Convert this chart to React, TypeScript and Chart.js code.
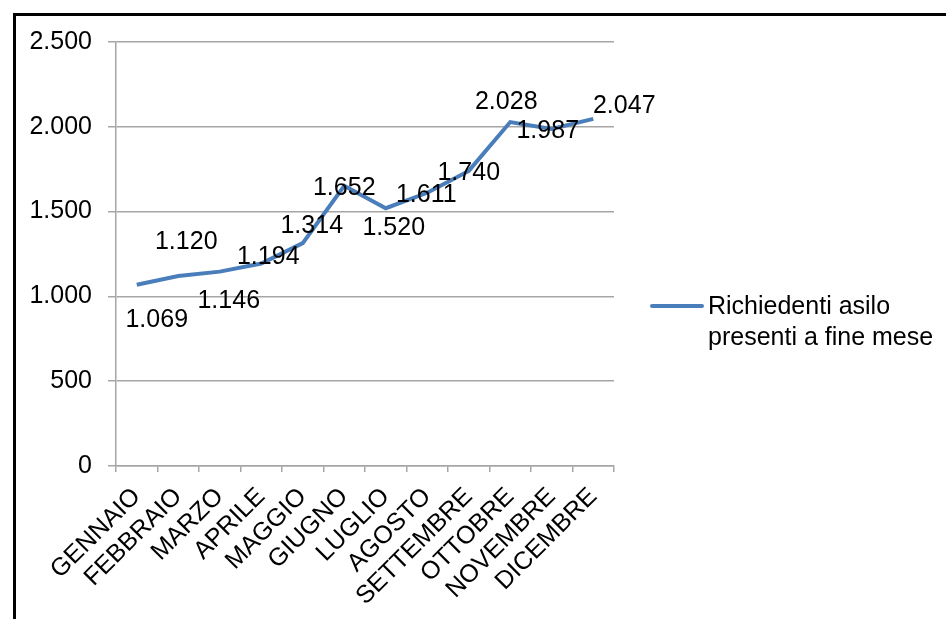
import React, { useEffect, useRef } from "react";
import { Chart, registerables } from "chart.js";

Chart.register(...registerables);

const months = [
  "GENNAIO", "FEBBRAIO", "MARZO", "APRILE", "MAGGIO", "GIUGNO",
  "LUGLIO", "AGOSTO", "SETTEMBRE", "OTTOBRE", "NOVEMBRE", "DICEMBRE",
];
const presenti = [1069, 1120, 1146, 1194, 1314, 1652, 1520, 1611, 1740, 2028, 1987, 2047];
const seriesName = ["Richiedenti asilo", "presenti a fine mese"];
const yTicks = [0, 500, 1000, 1500, 2000, 2500];

const FONT = "'Liberation Sans', Arial, sans-serif";
const LINE_COLOR = "#4a7ebb";

// label offsets (dx, dy) relative to each point, as placed in the original
const labelOffsets: [number, number][] = [
  [20, 35], [8, -34], [9, 29], [7, -6], [9, -17], [0, 2],
  [8, 20], [-1, 2], [0, 2], [-4, -20], [-4, 2], [31, -13],
];

const fmt = (v: number) => v.toLocaleString("de-DE");

const framePlugin = {
  id: "frame",
  beforeDraw(chart: any) {
    const ctx = chart.ctx;
    ctx.save();
    ctx.fillStyle = "#ffffff";
    ctx.fillRect(0, 0, chart.width, chart.height);
    ctx.fillStyle = "#000000";
    ctx.fillRect(13, 13, 3, chart.height - 13);
    ctx.fillRect(13, 13, chart.width - 13, 3);
    ctx.restore();
  },
};

const labelsPlugin = {
  id: "valueLabels",
  afterDatasetsDraw(chart: any) {
    const ctx = chart.ctx;
    const meta = chart.getDatasetMeta(0);
    ctx.save();
    ctx.font = `25px ${FONT}`;
    ctx.fillStyle = "#000000";
    ctx.textAlign = "center";
    ctx.textBaseline = "middle";
    meta.data.forEach((pt: any, i: number) => {
      const v = chart.data.datasets[0].data[i];
      const [dx, dy] = labelOffsets[i];
      ctx.fillText(fmt(v), pt.x + dx, pt.y + dy);
    });
    ctx.restore();
  },
};

const legendPlugin = {
  id: "customLegend",
  afterDraw(chart: any) {
    const ctx = chart.ctx;
    const area = chart.chartArea;
    const x0 = area.right + 38;
    const y0 = 306;
    ctx.save();
    ctx.strokeStyle = LINE_COLOR;
    ctx.lineWidth = 4;
    ctx.lineCap = "round";
    ctx.beginPath();
    ctx.moveTo(x0, y0);
    ctx.lineTo(x0 + 50, y0);
    ctx.stroke();
    ctx.font = `25px ${FONT}`;
    ctx.fillStyle = "#000000";
    ctx.textAlign = "left";
    ctx.textBaseline = "middle";
    seriesName.forEach((line, i) => {
      ctx.fillText(line, x0 + 56, y0 + 1 + i * 31);
    });
    ctx.restore();
  },
};

export default function App() {
  const ref = useRef<HTMLCanvasElement>(null);

  useEffect(() => {
    if (!ref.current) return;
    const chart = new Chart(ref.current, {
      type: "line",
      data: {
        labels: months,
        datasets: [
          {
            label: seriesName.join(" "),
            data: presenti,
            borderColor: LINE_COLOR,
            borderWidth: 4,
            pointRadius: 0,
            tension: 0,
            fill: false,
          },
        ],
      },
      options: {
        animation: false,
        responsive: false,
        maintainAspectRatio: false,
        layout: { padding: { left: 0, top: 42, right: 332, bottom: 0 } },
        plugins: {
          legend: { display: false },
          tooltip: { enabled: false },
          title: { display: false },
        },
        scales: {
          x: {
            type: "category",
            offset: true,
            afterFit: (s: any) => { s.height = 153; },
            grid: {
              offset: true,
              drawOnChartArea: false,
              drawTicks: true,
              tickLength: 6,
              color: "#a6a6a6",
              lineWidth: 1.5,
            },
            border: { display: true, color: "#a6a6a6", width: 1.5 },
            ticks: {
              autoSkip: false,
              maxRotation: 45,
              minRotation: 45,
              padding: 10,
              color: "#000000",
              font: { family: FONT, size: 25 },
            },
          },
          y: {
            min: 0,
            max: 2500,
            afterFit: (s: any) => { s.width = 116; },
            afterBuildTicks: (s: any) => { s.ticks = yTicks.map((v) => ({ value: v })); },
            grid: {
              color: "#a6a6a6",
              lineWidth: 1.5,
              drawTicks: true,
              tickLength: 8,
            },
            border: { display: true, color: "#a6a6a6", width: 1.5 },
            ticks: {
              padding: 16,
              color: "#000000",
              font: { family: FONT, size: 25 },
              callback: (v: any) => fmt(Number(v)),
            },
          },
        },
      },
      plugins: [framePlugin, labelsPlugin, legendPlugin],
    });
    return () => chart.destroy();
  }, []);

  return (
    <div style={{ position: "fixed", left: 0, top: 0, width: 946, height: 619 }}>
      <canvas ref={ref} width={946} height={619} style={{ display: "block", width: 946, height: 619 }} />
    </div>
  );
}
